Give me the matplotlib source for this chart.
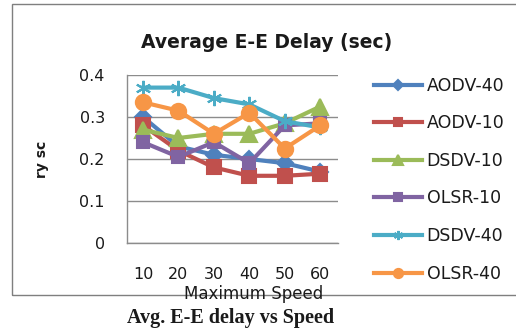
import matplotlib
matplotlib.use("Agg")
import matplotlib.pyplot as plt
from matplotlib.patches import Rectangle
from matplotlib.ticker import FuncFormatter

# Average end-to-end delay (sec) per routing protocol vs maximum speed
speeds = ["10", "20", "30", "40", "50", "60"]
aodv_40 = [0.30, 0.23, 0.21, 0.20, 0.19, 0.17]
aodv_10 = [0.28, 0.22, 0.18, 0.16, 0.16, 0.165]
dsdv_10 = [0.27, 0.25, 0.26, 0.26, 0.285, 0.325]
olsr_10 = [0.24, 0.205, 0.24, 0.19, 0.28, 0.285]
dsdv_40 = [0.37, 0.37, 0.345, 0.33, 0.29, 0.275]
olsr_40 = [0.335, 0.315, 0.26, 0.31, 0.225, 0.28]

series = [
    ("AODV-40", aodv_40, "#4F81BD", "D", 8),
    ("AODV-10", aodv_10, "#C0504D", "s", 10),
    ("DSDV-10", dsdv_10, "#9BBB59", "^", 11),
    ("OLSR-10", olsr_10, "#8064A2", "s", 9),
    ("DSDV-40", dsdv_40, "#4BACC6", (6, 2, 0), 11),
    ("OLSR-40", olsr_40, "#F79646", "o", 11),
]

plt.rcParams['font.family'] = ['DejaVu Sans']
txt = "#1a1a1a"

fig = plt.figure(figsize=(5.16, 3.31), dpi=100)
ax = fig.add_axes([127 / 516, 1 - 243 / 331, 211 / 516, 168 / 331])

x = list(range(len(speeds)))
for name, vals, col, mk, ms in series:
    ax.plot(x, vals, color=col, lw=3, marker=mk, markersize=ms,
            markeredgecolor=col, markeredgewidth=1.5, label=name)

ax.set_xlim(-0.45, 5.5)
ax.set_ylim(0, 0.4)
ax.set_yticks([0, 0.1, 0.2, 0.3, 0.4])
ax.yaxis.set_major_formatter(FuncFormatter(lambda v, p: "0" if v == 0 else f"{v:.1f}"))
ax.set_xticks(x)
ax.set_xticklabels(speeds)
ax.tick_params(length=0, labelsize=11.5, colors=txt)
ax.tick_params(axis="x", pad=17)
ax.tick_params(axis="y", pad=16)
ax.grid(axis="y", color="#8c8c8c", lw=1)
ax.set_axisbelow(True)
for s in ["top", "right"]:
    ax.spines[s].set_visible(False)
for s in ["left", "bottom"]:
    ax.spines[s].set_color("#8c8c8c")
    ax.spines[s].set_linewidth(1)

ax.set_ylabel("ry sc", fontsize=10, fontweight="bold", color=txt, labelpad=22)

fig.text(267 / 516, 1 - 42 / 331, "Average E-E Delay (sec)", ha="center", va="center",
         fontsize=13.5, fontweight="bold", color=txt)
fig.text(254 / 516, 1 - 294 / 331, "Maximum Speed", ha="center", va="center",
         fontsize=12, color=txt)
fig.text(231 / 516, 1 - 318 / 331, "Avg. E-E delay vs Speed", ha="center", va="center",
         fontsize=14.5, fontweight="bold", family="Liberation Serif", color=txt)

# outer chart border, right side runs off the canvas
fig.add_artist(Rectangle((12 / 516, 1 - 295 / 331), 1.0, 291 / 331,
                         transform=fig.transFigure, fill=False,
                         edgecolor="#7f7f7f", lw=1))

fig.legend(loc="upper left", bbox_to_anchor=(358 / 516, 1 - 61 / 331),
           frameon=False, fontsize=12.5, handlelength=2.8, handletextpad=0.25,
           labelspacing=1.13, labelcolor=txt, markerscale=0.6)

fig.savefig("out.png", dpi=100)
